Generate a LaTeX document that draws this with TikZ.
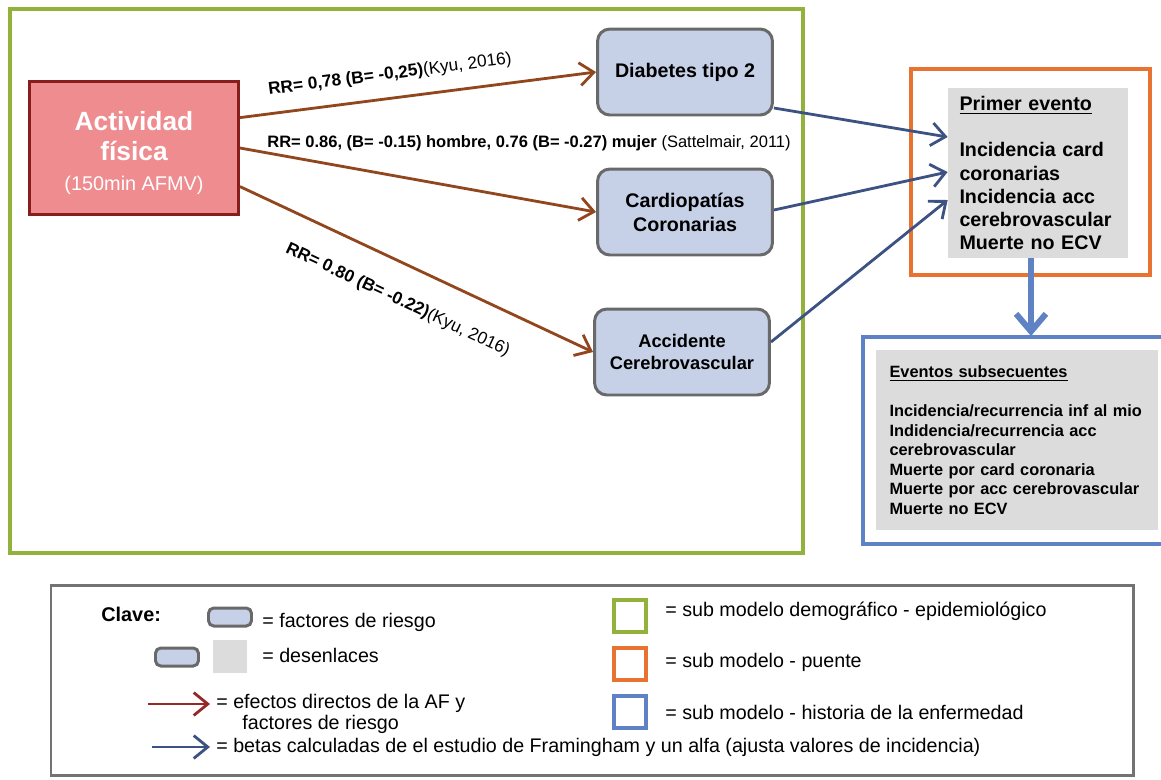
\documentclass[tikz,border=0pt]{standalone}
\usepackage{fontspec}
\setmainfont{Liberation Sans}
\usetikzlibrary{arrows.meta}

\definecolor{verde}{RGB}{146,178,60}
\definecolor{naranja}{RGB}{232,114,48}
\definecolor{azulmarco}{RGB}{95,130,197}
\definecolor{cafe}{RGB}{145,70,30}
\definecolor{rojoflecha}{RGB}{150,40,40}
\definecolor{azulflecha}{RGB}{60,82,130}
\definecolor{rosa}{RGB}{238,140,143}
\definecolor{rojoborde}{RGB}{135,30,30}
\definecolor{celeste}{RGB}{198,208,230}
\definecolor{grisbox}{RGB}{220,220,220}
\definecolor{grisborde}{RGB}{105,105,105}
\definecolor{grisclave}{RGB}{115,115,115}

\begin{document}
\begin{tikzpicture}[x=0.02cm,y=-0.02cm]
\tikzstyle{every node}+=[inner sep=0pt]
\tikzstyle{riesgo}=[draw=grisborde, line width=1.7pt, fill=celeste, rounded corners=7pt, minimum width=3.5cm, minimum height=1.72cm, align=center, font=\bfseries\fontsize{11.2}{13.6}\selectfont]
\tikzstyle{minirriesgo}=[draw=grisborde, line width=1.7pt, fill=celeste, rounded corners=3pt, minimum width=0.86cm, minimum height=0.36cm]
\tikzstyle{desenlace}=[fill=grisbox, align=left]
\tikzstyle{efecto}=[draw=cafe, line width=1.6pt, -{Straight Barb[length=8pt,width=13pt]}]
\tikzstyle{beta}=[draw=azulflecha, line width=1.6pt, -{Straight Barb[length=8pt,width=13pt]}]
\tikzstyle{etiqueta}=[font=\bfseries\fontsize{9.8}{11}\selectfont]
\tikzstyle{clave}=[anchor=west, font=\fontsize{11.2}{11.9}\selectfont]
\tikzstyle{marco}=[line width=2.2pt, minimum size=0.64cm]

\useasboundingbox (0,0) rectangle (1161,779);

% sub modelo demografico - epidemiologico
\draw [verde, line width=2.8pt] (10,9) rectangle (803,553);
\node [draw=rojoborde, line width=1.7pt, fill=rosa, minimum width=4.18cm, minimum height=2.66cm, align=center, text=white, font=\bfseries\fontsize{15}{17}\selectfont] (af) at (134,148) {\rule{0pt}{16.5pt}Actividad\\física\\{\fontsize{11.3}{13}\mdseries\selectfont (150min AFMV)}};
\node [riesgo] (dm) at (685,72) {Diabetes tipo 2};
\node [riesgo] (cc) at (685,212) {Cardiopatías\\Coronarias};
\node [riesgo, font=\bfseries\fontsize{10.4}{12.5}\selectfont] (acv) at (682,352) {Accidente\\Cerebrovascular};

\draw [efecto] (af.16) -- (dm.west) node [etiqueta, sloped, above=8pt, pos=0.43] (lbldm) {RR= 0,78 (B= -0,25){\mdseries(Kyu, 2016)}};
\draw [efecto] (af.east) -- (cc.west);
\node [etiqueta, font=\bfseries\fontsize{9.4}{11}\selectfont] (lblcc) at (529,143) {RR= 0.86, (B= -0.15) hombre, 0.76 (B= -0.27) mujer {\mdseries (Sattelmair, 2011)}};
\draw [efecto] (af.-20) -- (acv.west) node [etiqueta, sloped, below=15pt, pos=0.49] (lblacv) {RR= 0.80 (B= -0.22){\mdseries(Kyu, 2016)}};

% sub modelo puente
\draw [naranja, line width=2.2pt] (911,69) rectangle (1150,275);
\node [desenlace, minimum width=3.6cm, minimum height=3.4cm, text width=3.14cm, font=\bfseries\fontsize{11.2}{13.2}\selectfont] (pe) at (1038,173) {\underline{Primer evento}\\[13.2pt]Incidencia card\\coronarias\\Incidencia acc\\cerebrovascular\\Muerte no ECV};

\draw [beta] (dm.east |- 0,108) -- (pe.west |- 0,137);
\draw [beta] (cc.east |- 0,210) -- (pe.west |- 0,172);
\draw [beta] (acv.east |- 0,342) -- (pe.west |- 0,200);

% sub modelo historia de la enfermedad
\coordinate (histtop) at (1031,336);
\draw [azulmarco, line width=2.2pt] (1161,337) -- (863,337) -- (863,544) -- (1161,544);
\draw [azulmarco, line width=3.4pt, -{Straight Barb[length=10pt,width=17pt]}] (pe.south -| histtop) -- (histtop);
\node [desenlace, minimum width=5.64cm, minimum height=3.6cm, text width=5.1cm, font=\bfseries\fontsize{9.3}{11.1}\selectfont] (hist) at (1017,440) {\underline{Eventos subsecuentes}\\[11.1pt]Incidencia/recurrencia inf al mio\\Indidencia/recurrencia acc\\cerebrovascular\\Muerte por card coronaria\\Muerte por acc cerebrovascular\\Muerte no ECV};

% clave
\draw [grisclave, line width=1.7pt] (51,585) rectangle (1133,775);
\node [anchor=west, font=\bfseries\fontsize{11.3}{13}\selectfont] (clave) at (101,614) {Clave:};
\node [minirriesgo] (lr1) at (230,617) {};
\node [clave] (lt1) at (262,622) {= factores de riesgo};
\node [minirriesgo] (lr2) at (177,657) {};
\node [fill=grisbox, minimum width=0.7cm, minimum height=0.66cm] (lg2) at (230,656) {};
\node [clave] (lt2) at (262,655) {= desenlaces};
\coordinate (lrojoa) at (148,704);
\coordinate (lrojob) at (210,704);
\draw [efecto, draw=rojoflecha] (lrojoa) -- (lrojob);
\node [clave, align=left] (lt3) at (216,714) {= efectos directos de la AF y\\\hspace*{0.52cm}factores de riesgo};
\coordinate (lazula) at (152,747);
\coordinate (lazulb) at (210,747);
\draw [beta] (lazula) -- (lazulb);
\node [clave] (lt4) at (216,747) {= betas calculadas de el estudio de Framingham y un alfa (ajusta valores de incidencia)};
\node [marco, draw=verde] (lv) at (630,616) {};
\node [clave] (lt5) at (665,611) {= sub modelo demográfico - epidemiológico};
\node [marco, draw=naranja] (ln) at (630,664) {};
\node [clave] (lt6) at (665,662) {= sub modelo - puente};
\node [marco, draw=azulmarco] (la) at (630,712) {};
\node [clave] (lt7) at (665,712) {= sub modelo - historia de la enfermedad};
\end{tikzpicture}
\end{document}
